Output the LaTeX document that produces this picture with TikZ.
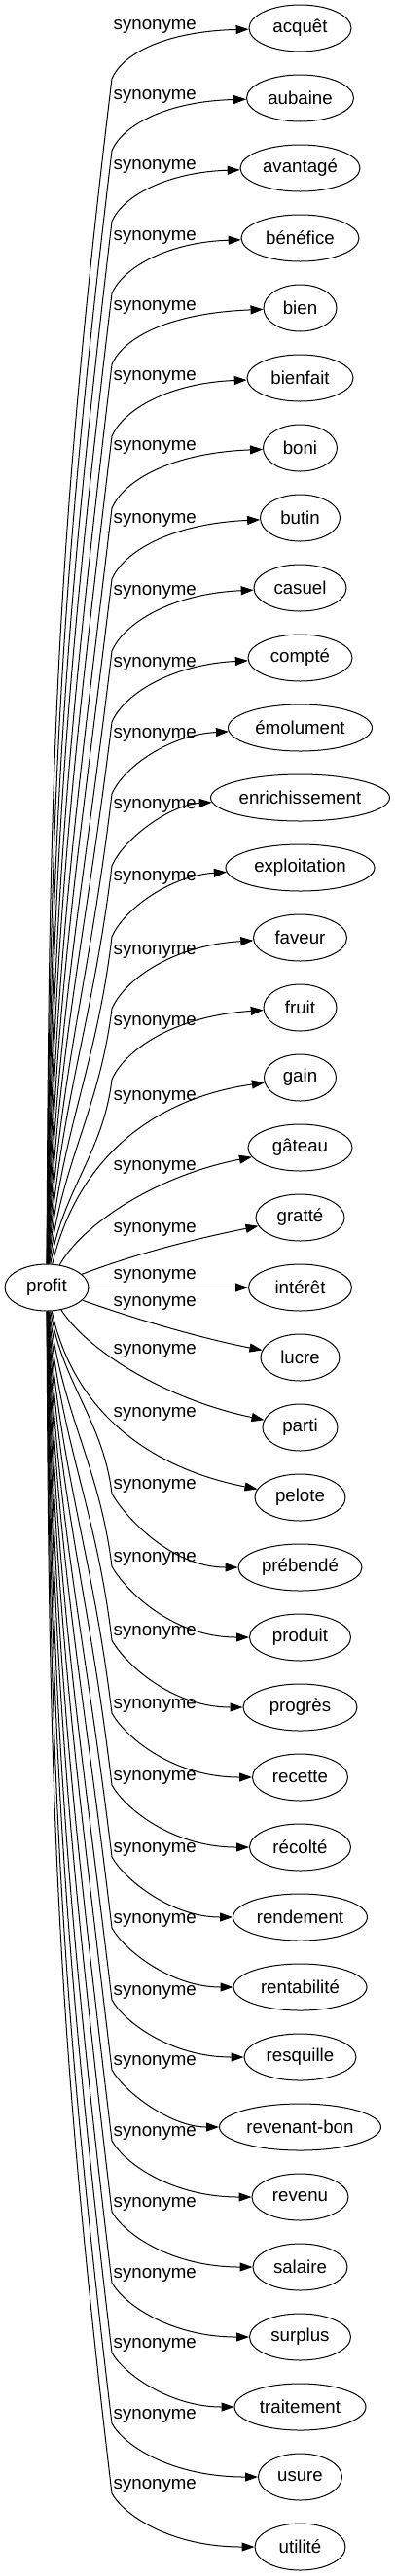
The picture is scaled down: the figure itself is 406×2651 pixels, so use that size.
\documentclass[tikz,border=0pt]{standalone}
\usepackage{fontspec}
\setmainfont{Liberation Sans}
\usetikzlibrary{arrows.meta,shapes.geometric}

\begin{document}
\begin{tikzpicture}[x=1pt, y=-1pt,
  word/.style={draw, ellipse, line width=1pt, minimum height=48pt, inner sep=1pt, font=\fontsize{18.67}{22}\selectfont},
  rel/.style={anchor=mid west, inner sep=0pt, font=\fontsize{18.67}{22}\selectfont},
  syn/.style={line width=1pt, -{Triangle[length=13pt, width=9pt]}}]
  \useasboundingbox (0,0) rectangle (406,2651);

  % Source word
  \node[word, minimum width=86pt] (profit) at (48,1325) {profit};

  % Synonyms, one row every 72
  \node[word, minimum width=105pt] (acquet) at (308.5,29) {acquêt};
  \node[word, minimum width=110pt] (aubaine) at (308.5,101) {aubaine};
  \node[word, minimum width=123pt] (avantage) at (308.5,173) {avantagé};
  \node[word, minimum width=121pt] (benefice) at (308.5,245) {bénéfice};
  \node[word, minimum width=75pt] (bien) at (308.5,317) {bien};
  \node[word, minimum width=109pt] (bienfait) at (308.5,389) {bienfait};
  \node[word, minimum width=76pt] (boni) at (308.5,461) {boni};
  \node[word, minimum width=82pt] (butin) at (308.5,533) {butin};
  \node[word, minimum width=95pt] (casuel) at (308.5,605) {casuel};
  \node[word, minimum width=107pt] (compte) at (308.5,677) {compté};
  \node[word, minimum width=148pt] (emolument) at (308.5,749) {émolument};
  \node[word, minimum width=184pt] (enrichissement) at (308.5,821) {enrichissement};
  \node[word, minimum width=153pt] (exploitation) at (308.5,893) {exploitation};
  \node[word, minimum width=96pt] (faveur) at (308.5,965) {faveur};
  \node[word, minimum width=75pt] (fruit) at (308.5,1037) {fruit};
  \node[word, minimum width=74pt] (gain) at (308.5,1109) {gain};
  \node[word, minimum width=107pt] (gateau) at (308.5,1181) {gâteau};
  \node[word, minimum width=91pt] (gratte) at (308.5,1253) {gratté};
  \node[word, minimum width=106pt] (interet) at (308.5,1325) {intérêt};
  \node[word, minimum width=81pt] (lucre) at (308.5,1397) {lucre};
  \node[word, minimum width=77pt] (parti) at (308.5,1469) {parti};
  \node[word, minimum width=93pt] (pelote) at (308.5,1541) {pelote};
  \node[word, minimum width=127pt] (prebende) at (308.5,1613) {prébendé};
  \node[word, minimum width=104pt] (produit) at (308.5,1685) {produit};
  \node[word, minimum width=117pt] (progres) at (308.5,1757) {progrès};
  \node[word, minimum width=98pt] (recette) at (308.5,1829) {recette};
  \node[word, minimum width=104pt] (recolte) at (308.5,1901) {récolté};
  \node[word, minimum width=138pt] (rendement) at (308.5,1973) {rendement};
  \node[word, minimum width=137pt] (rentabilite) at (308.5,2045) {rentabilité};
  \node[word, minimum width=115pt] (resquille) at (308.5,2117) {resquille};
  \node[word, minimum width=166pt] (revenantbon) at (308.5,2189) {revenant-bon};
  \node[word, minimum width=99pt] (revenu) at (308.5,2261) {revenu};
  \node[word, minimum width=97pt] (salaire) at (308.5,2333) {salaire};
  \node[word, minimum width=104pt] (surplus) at (308.5,2405) {surplus};
  \node[word, minimum width=135pt] (traitement) at (308.5,2477) {traitement};
  \node[word, minimum width=86pt] (usure) at (308.5,2549) {usure};
  \node[word, minimum width=93pt] (utilite) at (308.5,2621) {utilité};

  % Edge labels
  \node[rel] (l-acquet) at (116.5,27.5) {synonyme};
  \node[rel] (l-aubaine) at (116.5,99.5) {synonyme};
  \node[rel] (l-avantage) at (116.5,171.5) {synonyme};
  \node[rel] (l-benefice) at (116.5,244.5) {synonyme};
  \node[rel] (l-bien) at (116.5,316.5) {synonyme};
  \node[rel] (l-bienfait) at (116.5,389) {synonyme};
  \node[rel] (l-boni) at (116.5,461) {synonyme};
  \node[rel] (l-butin) at (116.5,535.5) {synonyme};
  \node[rel] (l-casuel) at (116.5,610) {synonyme};
  \node[rel] (l-compte) at (116.5,683.5) {synonyme};
  \node[rel] (l-emolument) at (116.5,756.5) {synonyme};
  \node[rel] (l-enrichissement) at (116.5,830) {synonyme};
  \node[rel] (l-exploitation) at (116.5,904) {synonyme};
  \node[rel] (l-faveur) at (116.5,979.5) {synonyme};
  \node[rel] (l-fruit) at (116.5,1053) {synonyme};
  \node[rel] (l-gain) at (116.5,1129.5) {synonyme};
  \node[rel] (l-gateau) at (116.5,1202) {synonyme};
  \node[rel] (l-gratte) at (116.5,1265.5) {synonyme};
  \node[rel] (l-interet) at (116.5,1314) {synonyme};
  \node[rel] (l-lucre) at (116.5,1342) {synonyme};
  \node[rel] (l-parti) at (116.5,1390.5) {synonyme};
  \node[rel] (l-pelote) at (116.5,1456) {synonyme};
  \node[rel] (l-prebende) at (116.5,1530) {synonyme};
  \node[rel] (l-produit) at (116.5,1605) {synonyme};
  \node[rel] (l-progres) at (116.5,1681) {synonyme};
  \node[rel] (l-recette) at (116.5,1756) {synonyme};
  \node[rel] (l-recolte) at (116.5,1830) {synonyme};
  \node[rel] (l-rendement) at (116.5,1903.5) {synonyme};
  \node[rel] (l-rentabilite) at (116.5,1977) {synonyme};
  \node[rel] (l-resquille) at (116.5,2050.5) {synonyme};
  \node[rel] (l-revenantbon) at (116.5,2123) {synonyme};
  \node[rel] (l-revenu) at (116.5,2195.5) {synonyme};
  \node[rel] (l-salaire) at (116.5,2268.5) {synonyme};
  \node[rel] (l-surplus) at (116.5,2341.5) {synonyme};
  \node[rel] (l-traitement) at (116.5,2414) {synonyme};
  \node[rel] (l-usure) at (116.5,2487) {synonyme};
  \node[rel] (l-utilite) at (116.5,2559) {synonyme};

  % Edges going up
  \draw[syn] (profit) .. controls (50,813) and (56,569) .. (115,81) .. controls (127,53) and (175,32) .. (acquet);
  \draw[syn] (profit) .. controls (51,843) and (60,613) .. (115,155) .. controls (127,127) and (175,104) .. (aubaine);
  \draw[syn] (profit) .. controls (52,872) and (64,657) .. (115,228) .. controls (127,200) and (175,177) .. (avantage);
  \draw[syn] (profit) .. controls (53,901) and (67,702) .. (115,302) .. controls (127,274) and (175,249) .. (benefice);
  \draw[syn] (profit) .. controls (54,931) and (71,745) .. (115,375) .. controls (127,347) and (175,322) .. (bien);
  \draw[syn] (profit) .. controls (55,960) and (74,790) .. (115,449) .. controls (127,421) and (175,394) .. (bienfait);
  \draw[syn] (profit) .. controls (56,990) and (78,834) .. (115,523) .. controls (127,495) and (175,466) .. (boni);
  \draw[syn] (profit) .. controls (57,1019) and (81,878) .. (115,596) .. controls (127,568) and (175,539) .. (butin);
  \draw[syn] (profit) .. controls (58,1049) and (85,922) .. (115,670) .. controls (127,642) and (175,611) .. (casuel);
  \draw[syn] (profit) .. controls (59,1078) and (88,966) .. (115,743) .. controls (127,715) and (175,684) .. (compte);
  \draw[syn] (profit) .. controls (60,1107) and (92,1011) .. (115,817) .. controls (127,789) and (175,756) .. (emolument);
  \draw[syn] (profit) .. controls (61,1137) and (95,1055) .. (115,891) .. controls (127,863) and (175,828) .. (enrichissement);
  \draw[syn] (profit) .. controls (62,1166) and (99,1099) .. (115,964) .. controls (127,936) and (175,901) .. (exploitation);
  \draw[syn] (profit) .. controls (63,1196) and (102,1143) .. (115,1038) .. controls (127,1010) and (175,973) .. (faveur);
  \draw[syn] (profit) .. controls (64,1225) and (106,1187) .. (115,1111) .. controls (127,1083) and (175,1046) .. (fruit);

  % Edges near the middle
  \draw[syn] (profit) .. controls (80,1190) and (160,1130) .. (gain);
  \draw[syn] (profit) .. controls (85,1260) and (160,1210) .. (gateau);
  \draw[syn] (profit) .. controls (140,1290) and (200,1275) .. (gratte);
  \draw[syn] (profit) -- (interet);
  \draw[syn] (profit) .. controls (140,1358) and (210,1378) .. (lucre);
  \draw[syn] (profit) .. controls (90,1390) and (170,1440) .. (parti);
  \draw[syn] (profit) .. controls (75,1450) and (150,1510) .. (pelote);

  % Edges going down
  \draw[syn] (profit) .. controls (64,1424) and (106,1462) .. (115,1537) .. controls (127,1559) and (175,1613) .. (prebende);
  \draw[syn] (profit) .. controls (63,1454) and (102,1507) .. (115,1612) .. controls (127,1634) and (175,1685) .. (produit);
  \draw[syn] (profit) .. controls (62,1485) and (99,1552) .. (115,1688) .. controls (127,1710) and (175,1757) .. (progres);
  \draw[syn] (profit) .. controls (61,1515) and (95,1597) .. (115,1763) .. controls (127,1785) and (175,1829) .. (recette);
  \draw[syn] (profit) .. controls (60,1544) and (92,1642) .. (115,1837) .. controls (127,1859) and (175,1901) .. (recolte);
  \draw[syn] (profit) .. controls (59,1574) and (88,1686) .. (115,1911) .. controls (127,1933) and (175,1973) .. (rendement);
  \draw[syn] (profit) .. controls (58,1603) and (85,1730) .. (115,1984) .. controls (127,2006) and (175,2045) .. (rentabilite);
  \draw[syn] (profit) .. controls (57,1632) and (81,1775) .. (115,2058) .. controls (127,2080) and (175,2117) .. (resquille);
  \draw[syn] (profit) .. controls (56,1661) and (78,1818) .. (115,2130) .. controls (127,2152) and (175,2189) .. (revenantbon);
  \draw[syn] (profit) .. controls (55,1690) and (74,1862) .. (115,2203) .. controls (127,2225) and (175,2261) .. (revenu);
  \draw[syn] (profit) .. controls (54,1720) and (71,1905) .. (115,2276) .. controls (127,2298) and (175,2333) .. (salaire);
  \draw[syn] (profit) .. controls (53,1749) and (67,1949) .. (115,2349) .. controls (127,2371) and (175,2405) .. (surplus);
  \draw[syn] (profit) .. controls (52,1778) and (64,1992) .. (115,2421) .. controls (127,2443) and (175,2477) .. (traitement);
  \draw[syn] (profit) .. controls (51,1807) and (60,2036) .. (115,2494) .. controls (127,2516) and (175,2549) .. (usure);
  \draw[syn] (profit) .. controls (50,1836) and (57,2079) .. (115,2566) .. controls (127,2588) and (175,2621) .. (utilite);
\end{tikzpicture}
\end{document}
